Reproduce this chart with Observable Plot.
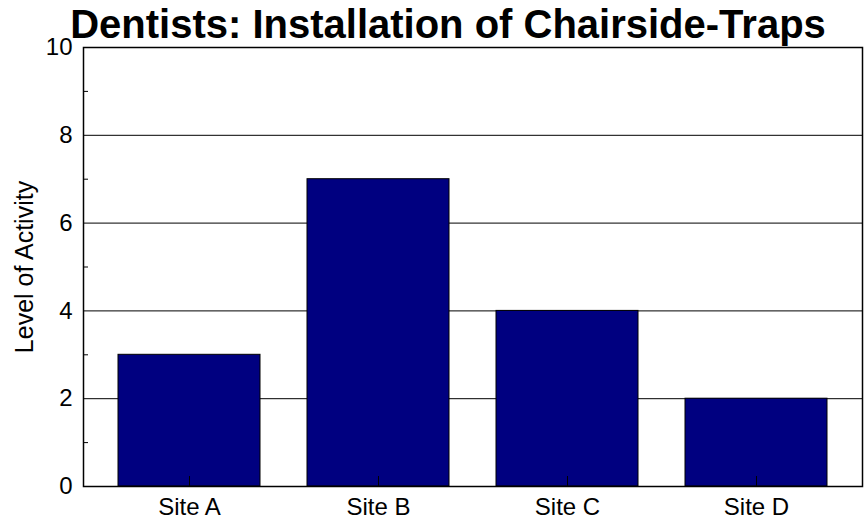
<!DOCTYPE html>
<html><head><meta charset="utf-8">
<script src="https://cdn.jsdelivr.net/npm/d3@7"></script>
<script src="https://cdn.jsdelivr.net/npm/@observablehq/plot@0.6"></script>
<style>body{margin:0;background:#fff}</style>
</head><body><div id="chart"></div>
<script>
const sites = ["Site A", "Site B", "Site C", "Site D"];
const activity = [3, 7, 4, 2];
const yTicks = [0, 2, 4, 6, 8, 10];
const yMinorTicks = [1, 3, 5, 7, 9];
const gridValues = [2, 4, 6, 8];
const title = "Dentists: Installation of Chairside-Traps";
const yLabel = "Level of Activity";
const data = sites.map((site, i) => ({site, value: activity[i]}));
const font = "'Liberation Sans', Arial, sans-serif";
const chart = Plot.plot({
  width: 866, height: 522,
  marginLeft: 83, marginRight: 4, marginTop: 47, marginBottom: 36,
  style: {fontFamily: font, fontSize: "24px", color: "black", background: "white", overflow: "visible"},
  x: {type: "band", domain: sites, paddingInner: 0.25, paddingOuter: 0.125, insetLeft: 10, insetRight: 10, axis: null, label: null},
  y: {domain: [0, 10], axis: null, label: null},
  marks: [
    Plot.ruleY(gridValues, {stroke: "black", strokeWidth: 1}),
    Plot.barY(data, {x: "site", y: "value", fill: "#000080", stroke: "black", strokeWidth: 1}),
    Plot.axisY({ticks: yMinorTicks, tickSize: -5, text: null, label: null}),
    Plot.axisY({ticks: yTicks, tickSize: 0, tickPadding: 11, fontSize: 24, label: null}),
    Plot.axisX({tickSize: -10, text: null, label: null}),
    Plot.axisX({tickSize: 0, tickPadding: 11, fontSize: 24, label: null}),
    Plot.frame({stroke: "black", strokeWidth: 1.5}),
    Plot.text([yLabel], {frameAnchor: "left", textAnchor: "middle", dx: -59, rotate: -90, fontSize: 25}),
    Plot.text([title], {frameAnchor: "top", dx: -25, dy: -10, lineAnchor: "bottom", fontSize: 40, fontWeight: "bold"})
  ]
});
document.getElementById("chart").append(chart);
</script>
</body></html>
